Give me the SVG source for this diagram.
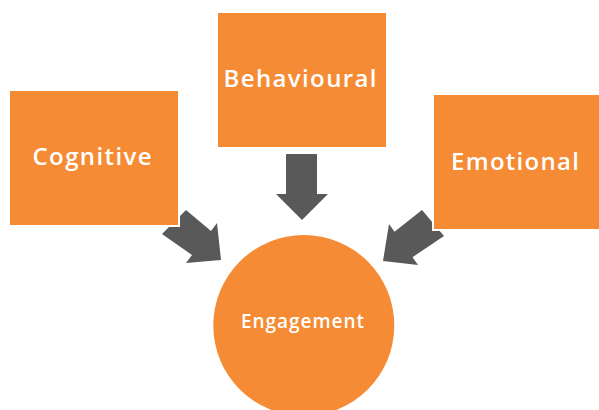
<svg xmlns="http://www.w3.org/2000/svg" width="599" height="410" viewBox="0 0 599 410">
  <style>
    .box { fill: #F58B34; stroke: #FFFFFF; stroke-width: 2; }
    .hub { fill: #F58B34; }
    .arrow { fill: #595959; }
    .label { fill: #FFFFFF; font-family: "Open Sans", "Liberation Sans", sans-serif; font-weight: 600; text-anchor: middle; }
  </style>
  <rect width="599" height="410" fill="#FFFFFF"/>

  <!-- block arrows pointing into the hub -->
  <g id="connectors">
    <polygon class="arrow" points="186,210 211,231 217,223 221,260 186,263 192,255 162,234"/>
    <polygon class="arrow" points="286,154 317,154 317,194 328,194 302,220 276,194 286,194"/>
    <polygon class="arrow" points="422,210 394.5,231.8 389,224 383,261 418,265 412.5,257.2 444,236"/>
  </g>

  <g id="cognitive">
    <rect class="box" x="9" y="90" width="170" height="136"/>
    <text class="label" x="92" y="165" font-size="24" textLength="119" lengthAdjust="spacing">Cognitive</text>
  </g>

  <g id="behavioural">
    <rect class="box" x="217" y="12" width="170" height="136"/>
    <text class="label" x="300" y="87" font-size="24" textLength="153" lengthAdjust="spacing">Behavioural</text>
  </g>

  <g id="emotional">
    <rect class="box" x="433" y="94" width="170" height="136"/>
    <text class="label" x="515" y="170" font-size="24" textLength="128" lengthAdjust="spacing">Emotional</text>
  </g>

  <g id="engagement">
    <circle class="hub" cx="303.8" cy="325.5" r="90.5"/>
    <text class="label" x="302.5" y="328" font-size="19" textLength="123" lengthAdjust="spacing">Engagement</text>
  </g>
</svg>
